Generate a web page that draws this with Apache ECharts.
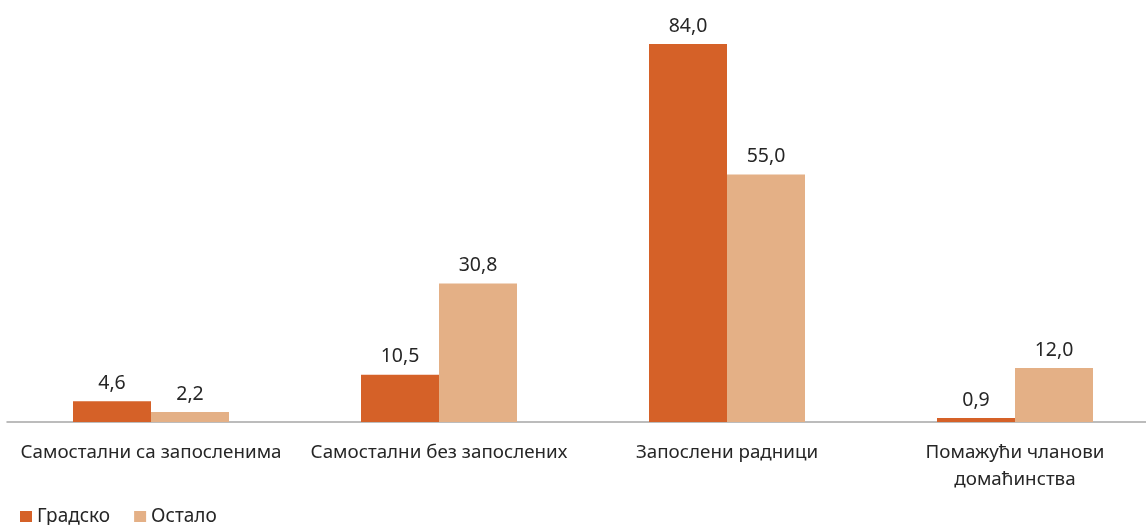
<!DOCTYPE html>
<html>
<head>
<meta charset="utf-8">
<script src="https://cdn.jsdelivr.net/npm/echarts@6/dist/echarts.min.js"></script>
<style>
  html, body { margin: 0; padding: 0; background: #fff; }
  #chart { width: 1146px; height: 525px; }
</style>
</head>
<body>
<div id="chart"></div>
<script>
var categories = ['Самостални са запосленима', 'Самостални без запослених', 'Запослени радници', 'Помажући чланови\nдомаћинства'];
var gradsko = [4.6, 10.5, 84.0, 0.9];
var ostalo = [2.2, 30.8, 55.0, 12.0];

var chart = echarts.init(document.getElementById('chart'));

var labelOpt = {
    show: true,
    position: 'top',
    distance: 8,
    color: '#262626',
    fontSize: 19.5,
    fontFamily: 'Noto Sans',
    formatter: function (p) { return p.value.toFixed(1).replace('.', ','); }
};

var option = {
    animation: false,
    grid: { left: 7, top: 44, right: -13, bottom: 103, containLabel: false, outerBoundsMode: 'none' },
    legend: {
        left: 15,
        bottom: -6,
        itemWidth: 12,
        itemHeight: 11,
        itemGap: 24,
        icon: 'rect',
        textStyle: { fontSize: 19, color: '#262626', fontFamily: 'Noto Sans' },
        data: ['Градско', 'Остало']
    },
    xAxis: {
        type: 'category',
        data: categories,
        axisLine: { lineStyle: { color: '#a6a6a6', width: 1.5 } },
        axisTick: { show: false },
        axisLabel: { fontSize: 18.8, color: '#262626', fontFamily: 'Noto Sans', margin: 17, lineHeight: 27, interval: 0 }
    },
    yAxis: {
        type: 'value',
        min: 0,
        max: 84,
        show: false
    },
    series: [
        {
            name: 'Градско',
            type: 'bar',
            data: gradsko,
            barWidth: 78,
            barGap: '0%',
            itemStyle: { color: '#d56128' },
            label: labelOpt
        },
        {
            name: 'Остало',
            type: 'bar',
            data: ostalo,
            barWidth: 78,
            itemStyle: { color: '#e4b086' },
            label: labelOpt
        }
    ]
};

chart.setOption(option);
</script>
</body>
</html>
